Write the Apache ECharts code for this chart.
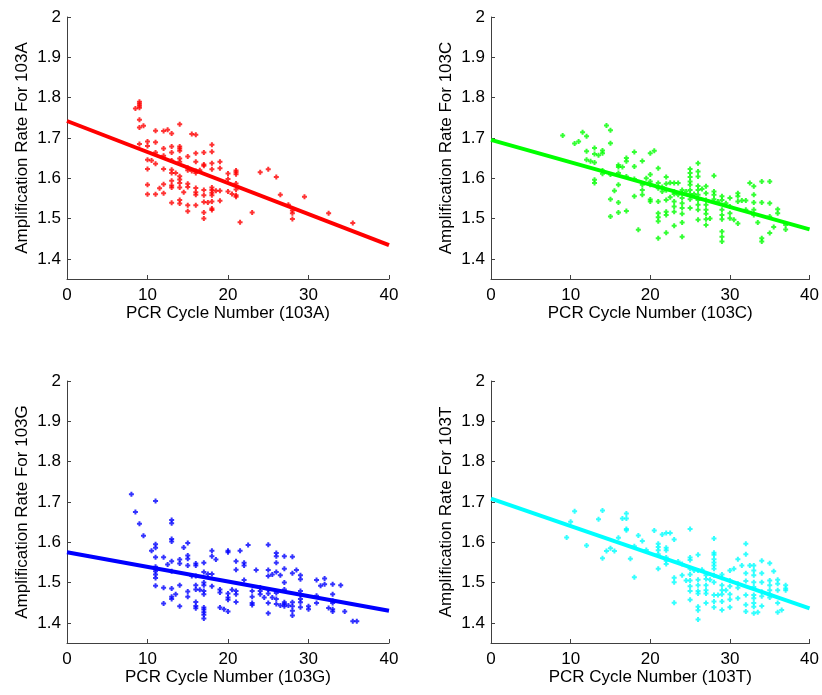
<!DOCTYPE html>
<html>
<head>
<meta charset="utf-8">
<script src="https://cdn.jsdelivr.net/npm/echarts@6/dist/echarts.min.js"></script>
<style>html,body{margin:0;padding:0;background:#fff}#c{width:822px;height:695px}</style>
</head>
<body>
<div id="c"></div>
<script>
// Data: each entry = [PCR cycle number, [amplification rates observed at that cycle]]
const amp103A = [
 [8.5,[1.773]],[9,[1.79,1.785,1.78,1.775,1.745,1.726,1.685]],[9.5,[1.73]],
 [10,[1.691,1.68,1.646,1.623,1.584,1.56]],[10.5,[1.644]],
 [11,[1.718,1.689,1.664,1.636,1.56]],[11.5,[1.575]],
 [12,[1.717,1.674,1.656,1.623,1.585,1.563]],[12.5,[1.72]],
 [13,[1.711,1.679,1.664,1.644,1.621,1.613,1.594,1.582,1.577,1.539]],[13.5,[1.613]],
 [14,[1.734,1.679,1.674,1.668,1.649,1.641,1.605,1.597,1.588,1.577,1.546,1.537]],[14.5,[1.565]],
 [15,[1.654,1.626,1.62,1.586,1.578,1.533,1.518]],[15.5,[1.71,1.618]],
 [16,[1.708,1.662,1.641,1.618,1.613,1.576,1.565,1.559,1.533]],[16.5,[1.62]],
 [17,[1.664,1.634,1.631,1.571,1.558,1.541,1.515,1.5]],[17.5,[1.54]],
 [18,[1.683,1.666,1.637,1.622,1.577,1.571,1.564,1.558,1.542,1.525,1.521]],[18.5,[1.569]],
 [19,[1.641,1.625,1.569,1.544]],[20,[1.612,1.598,1.567]],[20.5,[1.561]],
 [21,[1.619,1.615,1.61,1.587,1.572,1.558,1.554]],[21.5,[1.491]],
 [23,[1.515]],[24,[1.615]],[25,[1.622]],[26,[1.603]],[26.5,[1.559]],[27.5,[1.534]],
 [28,[1.52,1.513,1.499]],[29.5,[1.554]],[32.5,[1.513]],[35.5,[1.489]]
];
const amp103C = [
 [9,[1.706]],[10.5,[1.686]],[11,[1.691]],[11.5,[1.714]],
 [12,[1.704,1.667,1.646]],[12.5,[1.642]],
 [13,[1.675,1.66,1.639,1.596,1.588]],[13.5,[1.657]],
 [14,[1.669,1.662,1.619,1.611]],[14.5,[1.731]],
 [15,[1.719,1.687,1.609,1.548,1.505]],[15.5,[1.569]],
 [16,[1.633,1.628,1.613,1.584,1.54,1.515]],[16.5,[1.628]],
 [17,[1.65,1.642,1.604,1.519]],[18,[1.665,1.629,1.598,1.555]],[18.5,[1.472]],
 [19,[1.643,1.584,1.571,1.559]],[19.5,[1.6]],
 [20,[1.662,1.609,1.592,1.584,1.547,1.542]],[20.5,[1.668]],
 [21,[1.625,1.588,1.575,1.542,1.513,1.503,1.493,1.451]],[21.5,[1.578,1.567]],
 [22,[1.603,1.586,1.57,1.546,1.517,1.509,1.465]],[22.5,[1.589,1.553]],
 [23,[1.588,1.567,1.561,1.542,1.53,1.517,1.482]],[23.5,[1.588,1.559]],
 [24,[1.571,1.563,1.551,1.538,1.526,1.512,1.49,1.455]],[24.5,[1.567]],
 [25,[1.623,1.613,1.603,1.592,1.584,1.571,1.561,1.548,1.526]],[25.5,[1.561]],
 [26,[1.637,1.617,1.604,1.581,1.571,1.559,1.546,1.534,1.522,1.497]],[26.5,[1.573]],
 [27,[1.58,1.563,1.546,1.534,1.522,1.512,1.498,1.484]],[27.5,[1.5]],
 [28,[1.606,1.567,1.559,1.548]],[28.5,[1.542]],
 [29,[1.555,1.546,1.522,1.509,1.498,1.468,1.455,1.443]],[29.5,[1.538]],
 [30,[1.551,1.53,1.513,1.501]],[30.5,[1.497]],
 [31,[1.563,1.555,1.542,1.488]],[31.5,[1.545]],[32,[1.545,1.522]],[32.5,[1.588]],
 [33,[1.58,1.559,1.54,1.522,1.509]],[33.5,[1.49]],
 [34,[1.592,1.54,1.451,1.443]],[35,[1.592,1.538,1.505,1.464]],[35.5,[1.479]],
 [36,[1.523,1.513]],[37,[1.484,1.473]]
];
const amp103G = [
 [8,[1.719]],[8.5,[1.675]],[9,[1.646]],[9.5,[1.616]],[10.5,[1.579]],
 [11,[1.702,1.595,1.586,1.563,1.539,1.534,1.528,1.52,1.511,1.492]],
 [12,[1.563,1.487,1.448]],[12.5,[1.545]],
 [13,[1.655,1.647,1.608,1.602,1.553,1.528,1.485,1.465,1.459]],[13.5,[1.471]],
 [14,[1.557,1.547,1.493,1.441]],[14.5,[1.587]],
 [15,[1.598,1.567,1.559,1.542,1.478,1.465]],[15.5,[1.516]],
 [16,[1.547,1.542,1.516,1.493,1.483,1.452,1.442,1.436]],[16.5,[1.482]],
 [17,[1.549,1.526,1.5,1.493,1.479,1.471,1.438,1.433,1.426,1.42,1.411]],[17.5,[1.521]],
 [18,[1.579,1.565,1.521,1.491]],[18.5,[1.557]],
 [19,[1.483,1.475,1.438]],[19.5,[1.434]],
 [20,[1.579,1.575,1.473,1.463,1.457,1.428]],[20.5,[1.482]],
 [21,[1.553,1.532,1.479,1.471,1.452]],[21.5,[1.579]],
 [22,[1.549,1.542,1.506]],[22.5,[1.593]],
 [23,[1.479,1.465,1.449,1.444]],[23.5,[1.531]],
 [24,[1.488,1.479,1.471]],[24.5,[1.463]],
 [25,[1.594,1.531,1.516,1.483,1.473,1.449,1.424]],[25.5,[1.52,1.463]],
 [26,[1.573,1.565,1.549,1.526,1.474,1.459,1.447]],[26.5,[1.518,1.443]],
 [27,[1.565,1.534,1.5,1.483,1.451,1.447,1.441]],[27.5,[1.443]],
 [28,[1.564,1.523,1.451,1.441,1.43,1.418]],[28.5,[1.531]],
 [29,[1.518,1.508,1.479,1.469,1.459,1.451,1.439]],
 [30,[1.441,1.434]],[31,[1.506,1.467,1.449]],[31.5,[1.492]],
 [32,[1.51,1.496]],[32.5,[1.437]],
 [33,[1.496,1.471,1.455,1.449,1.434,1.428]],[34,[1.493]],[34.5,[1.428]],
 [35.5,[1.404]],[36,[1.404]]
];
const amp103T = [
 [9.5,[1.612]],[10,[1.651]],[10.5,[1.677]],[12,[1.592]],[13.5,[1.657]],
 [14,[1.679,1.56]],[14.5,[1.578]],[15,[1.585]],[15.5,[1.578]],[16,[1.611]],
 [16.5,[1.659]],[17,[1.671,1.659,1.633,1.63]],[17.5,[1.559]],
 [18,[1.59,1.513]],[18.5,[1.617]],[19,[1.603]],[19.5,[1.581]],[20.5,[1.629]],
 [21,[1.596,1.588,1.58,1.57,1.534]],[21.5,[1.619]],
 [22,[1.623,1.586,1.58,1.562,1.554,1.546]],[22.5,[1.623]],
 [23,[1.607,1.512,1.501,1.45]],[23.5,[1.552]],[24,[1.546,1.518]],[24.5,[1.505]],
 [25,[1.633,1.562,1.556,1.534,1.52,1.505,1.491,1.479,1.457]],[25.5,[1.53]],
 [26,[1.569,1.53,1.507,1.493,1.479,1.473,1.44,1.431,1.408]],[26.5,[1.532]],
 [27,[1.518,1.509,1.493,1.481,1.473,1.449]],[27.5,[1.507]],
 [28,[1.609,1.574,1.569,1.558,1.55,1.542,1.534,1.518,1.501,1.469,1.453,1.439]],[28.5,[1.469]],
 [29,[1.52,1.512,1.493,1.481,1.471,1.453,1.432]],[29.5,[1.481]],
 [30,[1.53,1.505,1.491,1.471,1.458,1.439]],[30.5,[1.534]],
 [31,[1.558,1.497,1.487,1.461]],[31.5,[1.542]],
 [32,[1.596,1.57,1.523,1.504,1.469,1.445,1.428]],[32.5,[1.542]],
 [33,[1.542,1.53,1.518,1.501,1.489,1.469,1.461,1.449,1.44,1.424]],[33.5,[1.426]],
 [34,[1.554,1.523,1.501,1.477,1.466,1.442]],
 [35,[1.548,1.505,1.493,1.481,1.471,1.463]],[35.5,[1.528]],
 [36,[1.507,1.497,1.481,1.449,1.426]],[36.5,[1.432]],[37,[1.493,1.485,1.481]]
];
// Fitted regression lines: value at cycle 0 and at cycle 40
const fitCycles = [0, 40];
const fit103A = [1.742, 1.434];
const fit103C = [1.695, 1.473];
const fit103G = [1.575, 1.43];
const fit103T = [1.708, 1.436];
// Axis ticks
const xTicks = [0, 10, 20, 30, 40];
const yTicks = [1.4, 1.5, 1.6, 1.7, 1.8, 1.9, 2];
const labels = ['103A', '103C', '103G', '103T'];
const colors = ['#ff0000', '#00ff00', '#0000ff', '#00ffff'];

const sets = [amp103A, amp103C, amp103G, amp103T];
const fits = [fit103A, fit103C, fit103G, fit103T];
const flatten = s => s.flatMap(([x, ys]) => ys.map(y => [x, y]));

const font = 'Liberation Sans, Arial, sans-serif';
const grids = [
  {left: 67, top: 17, width: 322, height: 262},
  {left: 491, top: 17, width: 321, height: 262},
  {left: 67, top: 381, width: 322, height: 262},
  {left: 491, top: 381, width: 321, height: 262}
];
const axisLine = {show: true, lineStyle: {color: '#404040', width: 1}};
const plus = 'path://M1.5,0H3.5V1.5H5V3.5H3.5V5H1.5V3.5H0V1.5H1.5Z';

const option = {
  backgroundColor: '#fff',
  animation: false,
  grid: grids,
  xAxis: labels.map((l, i) => ({
    type: 'value', gridIndex: i, min: 0, max: 40, interval: 10,
    name: 'PCR Cycle Number (' + l + ')', nameLocation: 'middle', nameGap: 25,
    nameTextStyle: {fontSize: 17, color: '#000', fontFamily: font},
    axisLine: axisLine,
    axisTick: {show: true, inside: true, length: 4, lineStyle: {color: '#404040'}, customValues: xTicks},
    axisLabel: {fontSize: 17, color: '#000', fontFamily: font, margin: 8, customValues: xTicks},
    splitLine: {show: false}
  })),
  yAxis: labels.map((l, i) => ({
    type: 'value', gridIndex: i, min: 1.35, max: 2,
    name: 'Amplification Rate For ' + l, nameLocation: 'middle', nameGap: 36,
    nameTextStyle: {fontSize: 17, color: '#000', fontFamily: font},
    axisLine: axisLine,
    axisTick: {show: true, inside: true, length: 4, lineStyle: {color: '#404040'}, customValues: yTicks},
    axisLabel: {fontSize: 17, color: '#000', fontFamily: font, margin: 6, customValues: yTicks},
    splitLine: {show: false}
  })),
  series: []
};
sets.forEach((s, i) => {
  option.series.push({
    type: 'scatter', xAxisIndex: i, yAxisIndex: i,
    data: flatten(s), symbol: plus, symbolSize: 5,
    itemStyle: {color: colors[i]}, z: 2
  });
  option.series.push({
    type: 'line', xAxisIndex: i, yAxisIndex: i,
    data: fitCycles.map((c, k) => [c, fits[i][k]]),
    showSymbol: false, symbol: 'none',
    lineStyle: {color: colors[i], width: 4}, z: 3
  });
});
const chart = echarts.init(document.getElementById('c'), null, {renderer: 'canvas'});
chart.setOption(option);
</script>
</body>
</html>
